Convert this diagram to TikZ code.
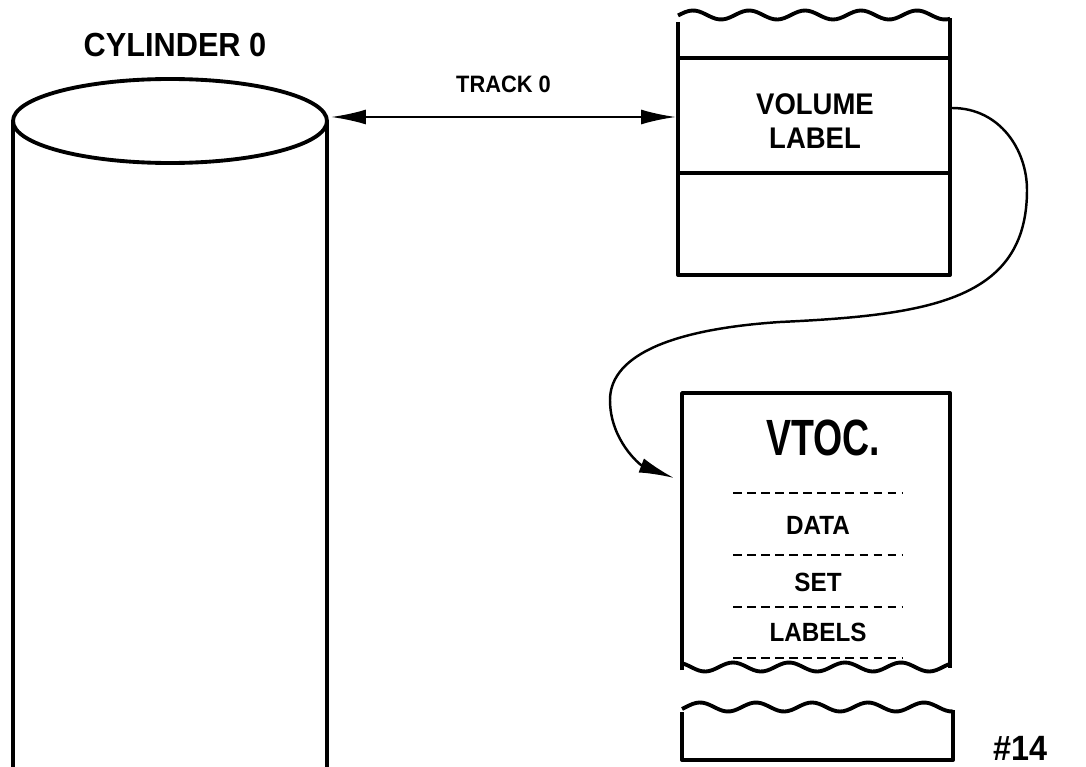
\documentclass[tikz,border=0pt]{standalone}
\usepackage{fontspec}
\setmainfont{Liberation Sans}[FakeStretch=0.92]
\usetikzlibrary{arrows.meta}
\tikzset{>={Latex[length=7mm,width=3mm]}}
\tikzset{
  heavy/.style={line width=2.2pt, line join=round},
  lbl/.style={inner sep=0pt, font=\bfseries\fontsize{17}{20}\selectfont, align=center},
  sep/.style={line width=1pt, dash pattern=on 5pt off 3pt}
}

\begin{document}
\begin{tikzpicture}[x=0.02cm, y=-0.02cm]
  \useasboundingbox (0,0) rectangle (1086,767);
  \clip (0,0) rectangle (1086,767);
  % cylinder
  \xdef\cx{170}
  \draw[heavy] (\cx,121) ellipse [x radius=157, y radius=42];
  \draw[heavy] (13,121) -- (13,780);
  \draw[heavy] (327,121) -- (327,780);
  \coordinate (cylr) at (331,117);
  \node[lbl, font=\bfseries\fontsize{19}{22}\selectfont] (cyltxt) at (175,45) {CYLINDER 0};

  % volume label track
  \draw[heavy] plot[domain=678:950, samples=80] (\x, {15-4.5*cos((\x-693)/56*360)});
  \draw[heavy] (678,22) -- (678,275) -- (950,275) -- (950,18);
  \draw[heavy] (678,58) -- (950,58);
  \draw[heavy] (678,173) -- (950,173);
  \node[lbl] (vol) at (815,121) {VOLUME\\[-1pt]LABEL};
  \coordinate (voll) at (676,117);
  \coordinate (volr) at (952,108);

  \draw[<->, line width=1.3pt] (cylr) -- node[above=10pt, font=\bfseries\fontsize{13.5}{16}\selectfont] (trk) {TRACK 0} (voll);

  % vtoc track
  \draw[heavy] plot[domain=682:950, samples=80] (\x, {667+4.5*cos((\x-705)/56*360)});
  \draw[heavy] (682,670) -- (682,393) -- (950,393) -- (950,668);
  \node[lbl, font=\bfseries\fontsize{29}{32}\selectfont, xscale=0.8] (vtoc) at (823,438) {VTOC.};
  \coordinate (vtocl) at (674,478);
  \foreach \y in {493,555,607,658}{
    \draw[sep] (733,\y) -- (902,\y);
  }
  \node[lbl, font=\bfseries\fontsize{15}{18}\selectfont] (data) at (818,525) {DATA};
  \node[lbl, font=\bfseries\fontsize{15}{18}\selectfont] (set) at (818,582) {SET};
  \node[lbl, font=\bfseries\fontsize{15}{18}\selectfont] (labels) at (818,632) {LABELS};

  % next track
  \draw[heavy] plot[domain=682:953, samples=80] (\x, {707-4.5*cos((\x-700)/56*360)});
  \draw[heavy] (682,712) -- (682,760) -- (953,760) -- (953,710);

  % pointer from volume label to vtoc
  \draw[->, line width=1.4pt] (volr) .. controls (1000,108) and (1027,150) .. (1027,190)
    .. controls (1027,300) and (930,315) .. (780,322)
    .. controls (660,330) and (610,360) .. (610,400)
    .. controls (610,440) and (640,465) .. (vtocl);

  \node[anchor=north west, inner sep=0pt, font=\bfseries\fontsize{20}{24}\selectfont] (fig) at (993,736) {\#14};
\end{tikzpicture}
\end{document}
